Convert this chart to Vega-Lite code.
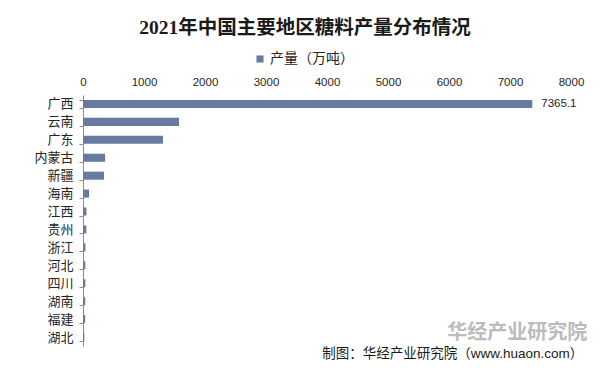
{
  "$schema": "https://vega.github.io/schema/vega-lite/v6.json",
  "autosize": "none",
  "width": 488,
  "height": 251,
  "padding": {"left": 83, "top": 95, "right": 37, "bottom": 35},
  "background": "white",
  "title": {
    "text": "2021年中国主要地区糖料产量分布情况",
    "font": "Liberation Serif, Noto Sans CJK SC",
    "fontSize": 19.5,
    "fontWeight": "bold",
    "color": "#1a1a1a",
    "anchor": "middle",
    "dx": -22,
    "offset": 14
  },
  "config": {
    "view": {"stroke": null},
    "font": "Liberation Sans, Noto Sans CJK SC"
  },
  "data": {
    "values": [
      {"region": "广西", "value": 7365.1, "series": "产量（万吨）"},
      {"region": "云南", "value": 1574, "series": "产量（万吨）"},
      {"region": "广东", "value": 1311, "series": "产量（万吨）"},
      {"region": "内蒙古", "value": 363, "series": "产量（万吨）"},
      {"region": "新疆", "value": 344, "series": "产量（万吨）"},
      {"region": "海南", "value": 100, "series": "产量（万吨）"},
      {"region": "江西", "value": 56, "series": "产量（万吨）"},
      {"region": "贵州", "value": 55, "series": "产量（万吨）"},
      {"region": "浙江", "value": 40, "series": "产量（万吨）"},
      {"region": "河北", "value": 38, "series": "产量（万吨）"},
      {"region": "四川", "value": 38, "series": "产量（万吨）"},
      {"region": "湖南", "value": 37, "series": "产量（万吨）"},
      {"region": "福建", "value": 36, "series": "产量（万吨）"},
      {"region": "湖北", "value": 22, "series": "产量（万吨）"}
    ]
  },
  "encoding": {
    "y": {
      "field": "region",
      "type": "nominal",
      "sort": null,
      "scale": {"paddingInner": 0.55, "paddingOuter": 0.275},
      "axis": {
        "title": null,
        "tickBand": "extent",
        "domainColor": "#8c8c8c",
        "tickColor": "#8c8c8c",
        "tickSize": 4,
        "labelFontSize": 13,
        "labelColor": "#262626",
        "labelPadding": 6,
        "labelFont": "Noto Sans CJK SC"
      }
    }
  },
  "layer": [
    {
      "mark": {"type": "bar", "color": "#677ba1"},
      "encoding": {
        "x": {
          "field": "value",
          "type": "quantitative",
          "scale": {"domain": [0, 8000]},
          "axis": {
            "orient": "top",
            "title": null,
            "values": [0, 1000, 2000, 3000, 4000, 5000, 6000, 7000, 8000],
            "format": "d",
            "grid": false,
            "domain": false,
            "ticks": false,
            "labelFontSize": 11.5,
            "labelColor": "#262626",
            "labelPadding": 8,
            "labelFlush": false
          }
        },
        "color": {
          "field": "series",
          "type": "nominal",
          "scale": {"range": ["#677ba1"]},
          "legend": {
            "orient": "none",
            "legendX": 170,
            "legendY": -43,
            "title": null,
            "symbolType": "square",
            "symbolSize": 50,
            "labelFontSize": 14,
            "labelColor": "#262626",
            "labelFont": "Noto Sans CJK SC",
            "labelOffset": 3,
            "symbolStrokeWidth": 0
          }
        }
      }
    },
    {
      "transform": [{"filter": "datum.region === '广西'"}],
      "mark": {"type": "text", "align": "left", "dx": 9, "fontSize": 11.5, "color": "#262626"},
      "encoding": {
        "x": {"field": "value", "type": "quantitative"},
        "text": {"field": "value", "type": "quantitative", "format": ".1f"}
      }
    },
    {
      "data": {"values": [{"note": "华经产业研究院"}]},
      "mark": {"type": "text", "align": "left", "baseline": "middle", "fontSize": 20, "fontWeight": "bold", "color": "#bcbcbc", "font": "Noto Sans CJK SC", "dy": -4},
      "encoding": {
        "x": {"datum": 5970, "type": "quantitative"},
        "y": {"datum": "湖北"},
        "text": {"field": "note"}
      }
    },
    {
      "data": {"values": [{"note": "制图：华经产业研究院（www.huaon.com）"}]},
      "mark": {"type": "text", "align": "right", "baseline": "middle", "fontSize": 13.5, "fontWeight": "normal", "color": "#1a1a1a", "font": "Liberation Sans, Noto Sans CJK SC", "dy": 17},
      "encoding": {
        "x": {"datum": 8200, "type": "quantitative"},
        "y": {"datum": "湖北"},
        "text": {"field": "note"}
      }
    }
  ]
}
